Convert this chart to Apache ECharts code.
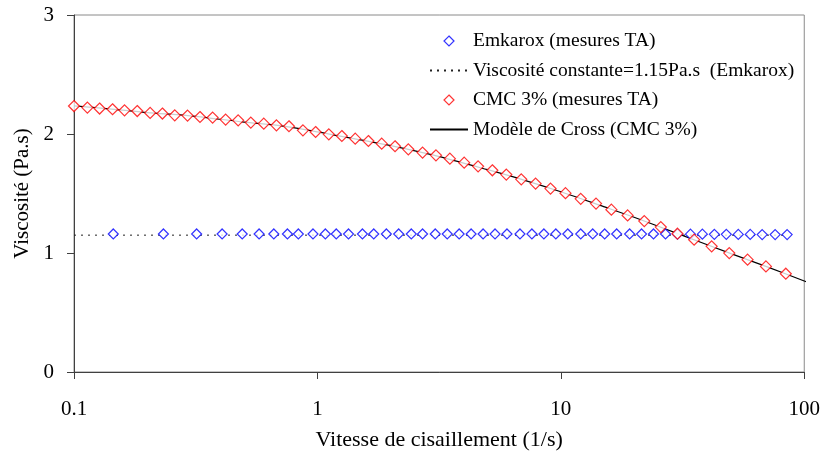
<!DOCTYPE html>
<html>
<head>
<meta charset="utf-8">
<script src="https://cdn.jsdelivr.net/npm/echarts@6/dist/echarts.min.js"></script>
<style>
  html, body { margin: 0; padding: 0; background: #fff; }
  #chart { width: 823px; height: 458px; }
</style>
</head>
<body>
<div id="chart"></div>
<script>
// Shear-rate ticks on the log axis
const xTicks = [0.1, 1, 10, 100];

// Emkarox: measured shear rates (1/s) and viscosities (Pa.s)
const emkaroxRate = [
  0.145, 0.233, 0.319, 0.406, 0.491, 0.576, 0.662, 0.753, 0.835, 0.959,
  1.078, 1.195, 1.342, 1.531, 1.704, 1.92, 2.157, 2.43, 2.704, 3.048,
  3.414, 3.822, 4.28, 4.793, 5.367, 6.009, 6.795, 7.607, 8.519, 9.539,
  10.68, 12.07, 13.52, 15.14, 16.96, 19.17, 21.46, 24.03, 26.92, 30.14,
  34.08, 38.15, 42.73, 47.85, 53.58, 59.98, 67.17, 75.95, 85.05
];
const emkaroxVisc = [
  1.16, 1.16, 1.16, 1.16, 1.16, 1.16, 1.16, 1.16, 1.16, 1.16,
  1.16, 1.16, 1.16, 1.16, 1.16, 1.16, 1.16, 1.16, 1.16, 1.16,
  1.16, 1.16, 1.16, 1.16, 1.16, 1.16, 1.16, 1.16, 1.16, 1.16,
  1.16, 1.16, 1.16, 1.16, 1.16, 1.16, 1.16, 1.16, 1.16, 1.158,
  1.158, 1.158, 1.157, 1.157, 1.156, 1.156, 1.155, 1.155, 1.155
];

// Constant-viscosity reference for Emkarox
const constRate = [0.1, 85.05];
const constVisc = [1.15, 1.15];

// CMC 3%: measured shear rates (1/s) and viscosities (Pa.s)
const cmcRate = [
  0.1, 0.1135, 0.1274, 0.144, 0.1613, 0.1819, 0.2055, 0.2308, 0.2594, 0.2927,
  0.3293, 0.3711, 0.4197, 0.4725, 0.5326, 0.6021, 0.6787, 0.7642, 0.872, 0.983,
  1.114, 1.26, 1.43, 1.62, 1.837, 2.084, 2.363, 2.704, 3.069, 3.501,
  4.008, 4.572, 5.232, 5.97, 6.878, 7.877, 9.07, 10.45, 12.07, 13.95,
  16.13, 18.81, 22.02, 25.75, 30.14, 35.28, 41.65, 49.2, 58.5, 69.6, 84.0
];
const cmcVisc = [
  2.235, 2.222, 2.214, 2.208, 2.199, 2.193, 2.177, 2.172, 2.157, 2.155,
  2.143, 2.138, 2.121, 2.115, 2.096, 2.087, 2.073, 2.065, 2.031, 2.017,
  1.997, 1.983, 1.961, 1.941, 1.919, 1.897, 1.871, 1.844, 1.821, 1.793,
  1.759, 1.728, 1.695, 1.659, 1.619, 1.583, 1.541, 1.503, 1.455, 1.415,
  1.364, 1.316, 1.268, 1.218, 1.162, 1.112, 1.056, 0.999, 0.944, 0.887, 0.826
];

// Cross model fit for CMC 3%
const crossRate = [0.1, 0.15, 0.2, 0.3, 0.5, 0.7, 1, 1.5, 2, 3, 5, 7, 10, 15, 20, 30, 50, 70, 100, 102.6];
const crossVisc = [2.237, 2.205, 2.18, 2.152, 2.10, 2.07, 2.018, 1.95, 1.903, 1.822, 1.70, 1.615, 1.515, 1.39, 1.30, 1.165, 0.995, 0.885, 0.765, 0.755];

const zip = (a, b) => a.map((v, i) => [v, b[i]]);

const FONT = 'Liberation Serif';
const AXIS_DARK = '#404040';
// Diamond outline that keeps its aspect inside the wide legend icon box
const DIAMOND_ICON = 'path://M5,0L10,5L5,10L0,5Z';

const chart = echarts.init(document.getElementById('chart'), null, { renderer: 'canvas' });

chart.setOption({
  backgroundColor: '#fff',
  animation: false,
  textStyle: { fontFamily: FONT, color: '#000' },
  grid: {
    left: 74, right: 18, top: 15, bottom: 86,
    show: true, borderColor: '#8a8a8a', borderWidth: 1
  },
  legend: {
    orient: 'vertical',
    left: 429, top: 31, padding: 0,
    itemWidth: 38, itemHeight: 10, itemGap: 9.5,
    symbolKeepAspect: true,
    textStyle: { fontFamily: FONT, fontSize: 19.5, color: '#000' },
    data: [
      { name: 'Emkarox (mesures TA)', icon: DIAMOND_ICON,
        itemStyle: { color: '#fff', borderColor: '#0000ff', borderWidth: 1.2 } },
      { name: 'Viscosité constante=1.15Pa.s  (Emkarox)',
        itemStyle: { opacity: 0 } },
      { name: 'CMC 3% (mesures TA)', icon: DIAMOND_ICON,
        itemStyle: { color: '#fff', borderColor: '#ff0000', borderWidth: 1.2 } },
      { name: 'Modèle de Cross (CMC 3%)',
        itemStyle: { opacity: 0 } }
    ]
  },
  xAxis: {
    type: 'log', logBase: 10, min: xTicks[0], max: xTicks[xTicks.length - 1],
    name: 'Vitesse de cisaillement (1/s)',
    nameLocation: 'middle', nameGap: 57,
    nameTextStyle: { fontFamily: FONT, fontSize: 22, color: '#000' },
    axisLine: { lineStyle: { color: AXIS_DARK, width: 1 } },
    axisTick: { show: true, inside: false, length: 7, lineStyle: { color: AXIS_DARK } },
    axisLabel: {
      fontFamily: FONT, fontSize: 21, color: '#000', margin: 27,
      formatter: v => String(v)
    },
    splitLine: { show: false },
    minorTick: { show: false }
  },
  yAxis: {
    type: 'value', min: 0, max: 3, interval: 1,
    name: 'Viscosité (Pa.s)',
    nameLocation: 'middle', nameGap: 40, nameRotate: 90,
    nameTextStyle: { fontFamily: FONT, fontSize: 21, color: '#000' },
    axisLine: { show: true, lineStyle: { color: AXIS_DARK, width: 1 } },
    axisTick: { show: true, inside: false, length: 7, lineStyle: { color: AXIS_DARK } },
    axisLabel: { fontFamily: FONT, fontSize: 21, color: '#000', margin: 20 },
    splitLine: { show: false }
  },
  series: [
    {
      name: 'Emkarox (mesures TA)',
      type: 'scatter',
      data: zip(emkaroxRate, emkaroxVisc),
      symbol: 'diamond', symbolSize: 10,
      itemStyle: { color: '#fff', borderColor: '#0000ff', borderWidth: 1.2 },
      z: 4
    },
    {
      name: 'Viscosité constante=1.15Pa.s  (Emkarox)',
      type: 'line',
      data: zip(constRate, constVisc),
      symbol: 'none', showSymbol: false,
      itemStyle: { color: '#222' },
      lineStyle: { color: '#222', width: 1, type: [2, 5] },
      z: 2
    },
    {
      name: 'CMC 3% (mesures TA)',
      type: 'scatter',
      data: zip(cmcRate, cmcVisc),
      symbol: 'diamond', symbolSize: 11,
      itemStyle: { color: '#fff', borderColor: '#ff0000', borderWidth: 1.2 },
      z: 5
    },
    {
      name: 'Modèle de Cross (CMC 3%)',
      type: 'line',
      data: zip(crossRate, crossVisc),
      symbol: 'none', showSymbol: false, smooth: 0.3,
      clip: false,
      itemStyle: { color: '#000' },
      lineStyle: { color: '#000', width: 1.2 },
      z: 2
    }
  ]
});
</script>
</body>
</html>
